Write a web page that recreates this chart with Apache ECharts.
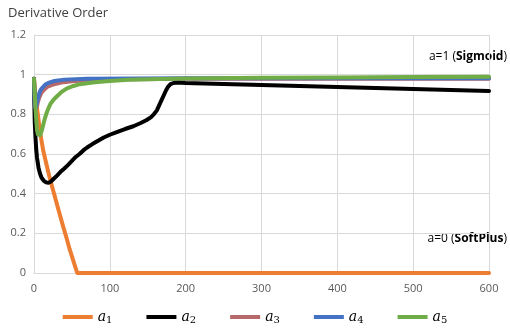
<!DOCTYPE html>
<html>
<head>
<meta charset="utf-8">
<script src="https://cdn.jsdelivr.net/npm/echarts@6/dist/echarts.min.js"></script>
<style>html,body{margin:0;padding:0;background:#fff}#c{width:510px;height:328px}</style>
</head>
<body>
<div id="c"></div>
<script>
const xTicks = [0, 100, 200, 300, 400, 500, 600];
const yTicks = [0, 0.2, 0.4, 0.6, 0.8, 1, 1.2];
const seriesNames = ['1', '2', '3', '4', '5'];
const a1 = [[0,0.98],[1,0.93],[2,0.89],[3,0.86],[5,0.8],[8,0.71],[12,0.62],[16,0.555],[20,0.49],[25,0.42],[30,0.35],[34,0.295],[38,0.24],[43,0.175],[47,0.12],[52,0.06],[57,0],[100,0],[200,0],[300,0],[400,0],[500,0],[600,0]];
const a2 = [[0,0.98],[0.5,0.85],[1,0.76],[2,0.68],[3,0.62],[4,0.58],[6,0.53],[8,0.5],[10,0.48],[13,0.465],[16,0.457],[19,0.455],[22,0.46],[26,0.475],[30,0.49],[35,0.51],[40,0.527],[45,0.545],[50,0.565],[55,0.585],[60,0.6],[65,0.618],[70,0.633],[77,0.65],[85,0.668],[92,0.683],[100,0.697],[110,0.712],[120,0.726],[131,0.74],[140,0.755],[148,0.77],[154,0.785],[158,0.8],[162,0.82],[165,0.845],[168,0.87],[171,0.895],[174,0.92],[177,0.94],[180,0.952],[184,0.958],[190,0.96],[200,0.958],[300,0.948],[400,0.938],[500,0.928],[600,0.918]];
const a3 = [[0,0.98],[0.5,0.9],[1,0.85],[2,0.82],[3,0.82],[4,0.84],[5,0.86],[7,0.885],[10,0.91],[14,0.927],[18,0.94],[25,0.95],[36,0.96],[50,0.967],[70,0.972],[100,0.975],[200,0.98],[400,0.98],[600,0.98]];
const a4 = [[0,0.98],[0.5,0.9],[1,0.85],[2,0.83],[3,0.84],[4,0.86],[5,0.88],[6.5,0.9],[8,0.917],[10,0.93],[12,0.94],[15,0.95],[20,0.96],[27,0.968],[40,0.975],[70,0.98],[200,0.982],[400,0.982],[600,0.982]];
const a5 = [[0,0.98],[1,0.9],[2,0.83],[3,0.77],[4,0.72],[5,0.7],[6,0.69],[7,0.69],[8,0.695],[10,0.715],[12,0.745],[14,0.775],[16,0.8],[19,0.83],[22,0.855],[26,0.875],[30,0.89],[36,0.912],[41,0.925],[46,0.935],[52,0.943],[58,0.95],[70,0.957],[80,0.962],[100,0.968],[125,0.974],[150,0.977],[200,0.981],[300,0.984],[400,0.986],[500,0.988],[600,0.99]];
const dataSets = [a1, a2, a3, a4, a5];
const colors = ['#ED7D31', '#000000', '#B7696A', '#4472C4', '#70AD47'];

const chart = echarts.init(document.getElementById('c'), null, {renderer: 'canvas'});
const series = dataSets.map((d, i) => ({
  name: seriesNames[i],
  type: 'line',
  data: d,
  showSymbol: false,
  smooth: false,
  lineStyle: {width: 4, color: colors[i], cap: 'round', join: 'round'},
  itemStyle: {color: colors[i]},
  z: [1, 3, 2, 4, 5][i],
  animation: false
}));
chart.setOption({
  animation: false,
  title: {
    text: 'Derivative Order', left: 3, top: 2,
    textStyle: {fontFamily: 'Open Sans', fontSize: 13, fontWeight: 'normal', color: '#404040'}
  },
  grid: {left: 34, right: 21, top: 35, bottom: 55},
  xAxis: {
    type: 'value', min: 0, max: 600, interval: 100,
    axisLine: {show: true, lineStyle: {color: '#D9D9D9'}},
    axisTick: {show: false},
    axisLabel: {color: '#595959', fontSize: 11, fontFamily: 'Open Sans', margin: 10},
    splitLine: {show: true, lineStyle: {color: '#D9D9D9'}}
  },
  yAxis: {
    type: 'value', min: 0, max: 1.2, interval: 0.2,
    axisLine: {show: true, lineStyle: {color: '#D9D9D9'}},
    axisTick: {show: false},
    axisLabel: {color: '#595959', fontSize: 11, fontFamily: 'Open Sans', margin: 8,
      formatter: v => String(parseFloat(v.toFixed(1)))},
    splitLine: {show: true, lineStyle: {color: '#D9D9D9'}}
  },
  legend: {
    top: 305, left: 'center',
    icon: 'rect', itemWidth: 30, itemHeight: 4, itemGap: 34,
    data: seriesNames,
    formatter: n => '{a|a}{s|' + n + '}',
    textStyle: {
      rich: {
        a: {fontFamily: 'DejaVu Serif', fontStyle: 'italic', fontSize: 14, color: '#000'},
        s: {fontFamily: 'DejaVu Serif', fontSize: 10, color: '#000', padding: [7, 0, 0, 0]}
      }
    }
  },
  graphic: [
    {type: 'text', right: 3, top: 51, style: {
      text: '{n|a=1 (}{b|Sigmoid}{n|)}',
      rich: {n: {fontFamily: 'Open Sans', fontSize: 12, color: '#404040'},
             b: {fontFamily: 'Open Sans', fontSize: 12, fontWeight: 'bold', color: '#404040'}}}},
    {type: 'text', right: 3, top: 233, style: {
      text: '{n|a=0 (}{b|SoftPlus}{n|)}',
      rich: {n: {fontFamily: 'Open Sans', fontSize: 12, color: '#404040'},
             b: {fontFamily: 'Open Sans', fontSize: 12, fontWeight: 'bold', color: '#404040'}}}}
  ],
  series: series
});
</script>
</body>
</html>
